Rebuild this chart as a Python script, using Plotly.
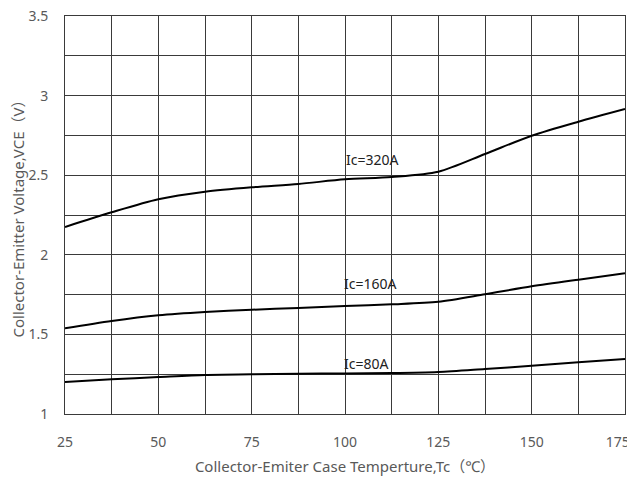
import plotly.graph_objects as go

temps = [25, 37.5, 50, 62.5, 75, 87.5, 100, 112.5, 125, 137.5, 150, 162.5, 175]
vce_320 = [2.175, 2.267, 2.349, 2.396, 2.424, 2.445, 2.474, 2.489, 2.522, 2.633, 2.748, 2.836, 2.916]
vce_160 = [1.538, 1.584, 1.620, 1.641, 1.655, 1.666, 1.678, 1.689, 1.705, 1.752, 1.802, 1.844, 1.884]
vce_80 = [1.201, 1.218, 1.232, 1.245, 1.249, 1.253, 1.255, 1.257, 1.264, 1.283, 1.303, 1.325, 1.345]

labels = ["Ic=320A", "Ic=160A", "Ic=80A"]
label_x = [100.5, 100.0, 100.0]
label_y = [2.60, 1.817, 1.318]

x_ticks = [25, 50, 75, 100, 125, 150, 175]
x_tick_text = ["25", "50", "75", "100", "125", "150", "175\u00a0\u00a0\u00a0\u00a0"]
y_ticks = [1, 1.5, 2, 2.5, 3, 3.5]
y_tick_text = ["1", "1.5", "2", "2.5", "3", "3.5"]

font_family = "Noto Sans, Noto Sans CJK SC, sans-serif"
text_color = "#595959"

fig = go.Figure()
for ys in (vce_320, vce_160, vce_80):
    fig.add_trace(go.Scatter(x=temps, y=ys, mode="lines",
                             line=dict(color="black", width=2, shape="spline", smoothing=0.8),
                             showlegend=False, hoverinfo="skip"))

for t, lx, ly in zip(labels, label_x, label_y):
    fig.add_annotation(x=lx, y=ly, text=t, showarrow=False, xanchor="left", yanchor="middle",
                       xshift=-3, font=dict(family=font_family, size=14, color="#222222"))

grid_color = "#3a3a3a"
fig.update_xaxes(range=[25, 175], tickvals=x_ticks, ticktext=x_tick_text,
                 showgrid=True, gridcolor=grid_color, gridwidth=1,
                 minor=dict(dtick=12.5, tick0=25, showgrid=True, gridcolor=grid_color, gridwidth=1),
                 showline=True, linecolor=grid_color, linewidth=1, mirror=True,
                 zeroline=False, ticks="", ticklen=0, automargin=False,
                 ticklabelstandoff=15, ticklabeloverflow="allow",
                 tickfont=dict(family=font_family, size=14, color=text_color),
                 title=dict(text="Collector-Emiter Case Temperture,Tc（℃）",
                            font=dict(family=font_family, size=15, color=text_color), standoff=18))
fig.update_yaxes(range=[1, 3.5], tickvals=y_ticks, ticktext=y_tick_text,
                 showgrid=True, gridcolor=grid_color, gridwidth=1,
                 minor=dict(dtick=0.25, tick0=1, showgrid=True, gridcolor=grid_color, gridwidth=1),
                 showline=True, linecolor=grid_color, linewidth=1, mirror=True,
                 zeroline=False, ticks="", ticklen=0, automargin=False,
                 ticklabelstandoff=13, ticklabeloverflow="allow",
                 tickfont=dict(family=font_family, size=14, color=text_color),
                 title=dict(text="Collector-Emitter Voltage,VCE（V）",
                            font=dict(family=font_family, size=15, color=text_color), standoff=10))

# page body has an 8px default margin, so the figure is sized/offset to land the plot area
fig.update_layout(width=627, height=468, margin=dict(l=57, r=10, t=8, b=62),
                  plot_bgcolor="white", paper_bgcolor="white")

fig.write_html("out.html")
